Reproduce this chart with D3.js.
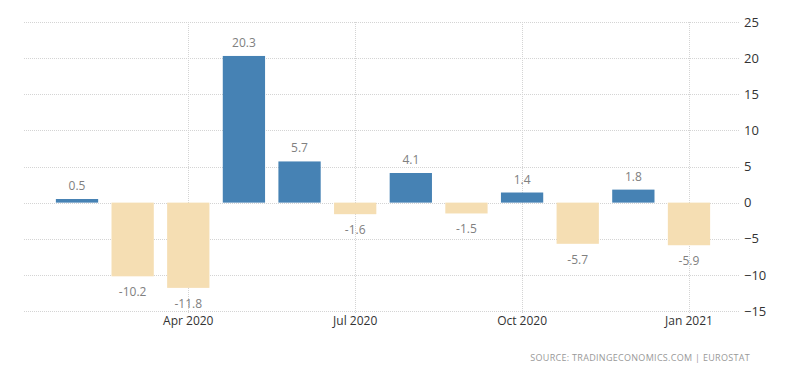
<!DOCTYPE html>
<html>
<head>
<meta charset="utf-8">
<script src="https://cdn.jsdelivr.net/npm/d3@7"></script>
<style>
  body { margin: 0; background: #fff; }
  .grid line { stroke: #d4d4d4; stroke-dasharray: 1,1; }
  .grid path { display: none; }
  .axisText { font-family: "Open Sans", sans-serif; font-size: 12px; fill: #333; }
  .valText { font-family: "Open Sans", sans-serif; font-size: 12px; fill: #808080; text-anchor: middle; }
</style>
</head>
<body>
<div id="chart"></div>
<script>
// Chart data
var months = ["Feb 2020", "Mar 2020", "Apr 2020", "May 2020", "Jun 2020", "Jul 2020",
              "Aug 2020", "Sep 2020", "Oct 2020", "Nov 2020", "Dec 2020", "Jan 2021"];
var values = [0.5, -10.2, -11.8, 20.3, 5.7, -1.6, 4.1, -1.5, 1.4, -5.7, 1.8, -5.9];
var xTickLabels = ["Apr 2020", "Jul 2020", "Oct 2020", "Jan 2021"];
var yTicks = [25, 20, 15, 10, 5, 0, -5, -10, -15];

var svgWidth = 800;
var svgHeight = 373;

var gridLeft = 24;
var gridRight = 740;

var svg = d3.select("#chart")
    .append("svg")
    .attr("width", svgWidth)
    .attr("height", svgHeight);

var data = months.map(function (m, i) { return { month: m, value: values[i] }; });

var xScale = d3.scaleBand()
    .domain(months)
    .range([49.2, 716.8])
    .paddingInner(0.24)
    .paddingOuter(0.12);

var yScale = d3.scaleLinear()
    .domain([-15, 25])
    .range([311, 22]);

// Horizontal gridlines
svg.append("g")
    .attr("class", "grid")
    .selectAll("line")
    .data(yTicks)
    .enter()
    .append("line")
    .attr("x1", gridLeft)
    .attr("x2", gridRight)
    .attr("y1", d => Math.round(yScale(d)) + 0.5)
    .attr("y2", d => Math.round(yScale(d)) + 0.5);

// Vertical gridlines at the labelled months
svg.append("g")
    .attr("class", "grid")
    .selectAll("line")
    .data(xTickLabels)
    .enter()
    .append("line")
    .attr("x1", d => Math.round(xScale(d) + xScale.bandwidth() / 2) + 0.5)
    .attr("x2", d => Math.round(xScale(d) + xScale.bandwidth() / 2) + 0.5)
    .attr("y1", yScale(25))
    .attr("y2", yScale(-15) + 2);

// Bars
svg.selectAll(".bar")
    .data(data)
    .enter()
    .append("rect")
    .attr("class", "bar")
    .attr("x", d => xScale(d.month))
    .attr("width", xScale.bandwidth())
    .attr("y", d => yScale(Math.max(0, d.value)))
    .attr("height", d => Math.abs(yScale(d.value) - yScale(0)))
    .attr("fill", d => d.value >= 0 ? "#4682b4" : "#f5deb3");

// Value labels
svg.selectAll(".valText")
    .data(data)
    .enter()
    .append("text")
    .attr("class", "valText")
    .attr("x", d => xScale(d.month) + xScale.bandwidth() / 2)
    .attr("y", d => d.value >= 0 ? yScale(d.value) - 9 : yScale(d.value) + 20)
    .text(d => d.value.toFixed(1));

// Y axis labels (right side)
var yAxis = d3.axisRight(yScale)
    .tickValues(yTicks)
    .tickSize(0)
    .tickPadding(0);

var yAxisG = svg.append("g")
    .attr("transform", "translate(744, 0)")
    .call(yAxis);
yAxisG.select(".domain").remove();
yAxisG.selectAll("text")
    .attr("class", "axisText")
    .attr("font-size", null)
    .attr("font-family", null)
    .style("font-size", "13px");

// X axis labels
var xAxis = d3.axisBottom(xScale)
    .tickValues(xTickLabels)
    .tickSize(0)
    .tickPadding(0);

var xAxisG = svg.append("g")
    .attr("transform", "translate(0, 316)")
    .call(xAxis);
xAxisG.select(".domain").remove();
xAxisG.selectAll("text")
    .attr("class", "axisText")
    .attr("font-size", null)
    .attr("font-family", null)
    .attr("dy", "0.71em");

// Source note
svg.append("text")
    .attr("x", 750)
    .attr("y", 361)
    .attr("text-anchor", "end")
    .attr("font-family", "'Open Sans', sans-serif")
    .attr("font-size", 9)
    .attr("letter-spacing", "0.3px")
    .attr("fill", "#999")
    .text("SOURCE: TRADINGECONOMICS.COM  |  EUROSTAT");
</script>
</body>
</html>
